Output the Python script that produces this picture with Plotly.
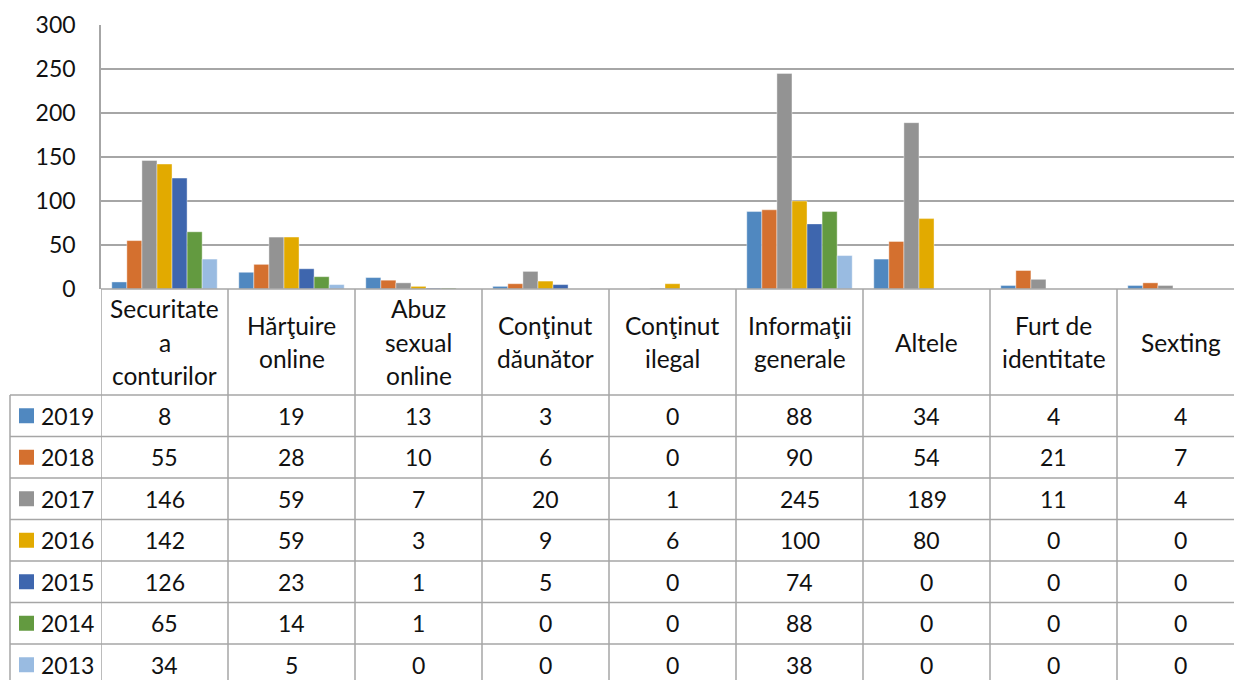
import plotly.graph_objects as go

categories = ["Securitate\na\nconturilor", "Hărţuire\nonline", "Abuz\nsexual\nonline",
              "Conţinut\ndăunător", "Conţinut\nilegal", "Informaţii\ngenerale",
              "Altele", "Furt de\nidentitate", "Sexting"]
years = ["2019", "2018", "2017", "2016", "2015", "2014", "2013"]
v2019 = [8, 19, 13, 3, 0, 88, 34, 4, 4]
v2018 = [55, 28, 10, 6, 0, 90, 54, 21, 7]
v2017 = [146, 59, 7, 20, 1, 245, 189, 11, 4]
v2016 = [142, 59, 3, 9, 6, 100, 80, 0, 0]
v2015 = [126, 23, 1, 5, 0, 74, 0, 0, 0]
v2014 = [65, 14, 1, 0, 0, 88, 0, 0, 0]
v2013 = [34, 5, 0, 0, 0, 38, 0, 0, 0]
series = [v2019, v2018, v2017, v2016, v2015, v2014, v2013]
colors = ["#5088C0", "#D4702F", "#939393", "#E2AA00", "#3E66AE", "#639A40", "#99BBE1"]
y_ticks = [0, 50, 100, 150, 200, 250, 300]

W, H = 1234, 680
FONT = "Lato"
FS = 23
FS_HEAD = 24.5
TXT = "#111111"
LINE = "#A6A6A6"

def px(x):
    return x / W

def py(y):
    return 1 - y / H

plot_left, plot_top, plot_bottom = 101, 25, 289
cat_w = 127
x_max = -0.5 + (W - plot_left) / cat_w

fig = go.Figure()
xs = list(range(len(categories)))
for yr, vals, c in zip(years, series, colors):
    fig.add_trace(go.Bar(x=xs, y=vals, name=yr,
                         marker=dict(color=c, line=dict(color="rgba(255,255,255,0.5)", width=0.8)),
                         showlegend=False))

fig.update_layout(
    width=W, height=H, margin=dict(l=0, r=0, t=0, b=0, pad=0), showlegend=False,
    paper_bgcolor="white", plot_bgcolor="white",
    barmode="group", bargap=0.17, bargroupgap=0,
    font=dict(family=FONT, size=FS, color=TXT),
    xaxis=dict(domain=[px(plot_left), 1], range=[-0.5, x_max], showticklabels=False,
               showgrid=False, zeroline=False, showline=False, ticks="", automargin=False),
    yaxis=dict(domain=[py(plot_bottom), py(plot_top)], range=[0, 300], tickvals=y_ticks,
               showgrid=True, gridcolor=LINE, gridwidth=1.5, zeroline=False,
               showline=True, linecolor=LINE, linewidth=1.5, ticks="", automargin=False,
               ticklabelstandoff=19, tickfont=dict(family=FONT, size=FS, color=TXT)),
)

shapes = []
header_top, header_bot = 289, 395
row_h = 41.5
row_tops = [header_bot + i * row_h for i in range(len(years))]
table_left = 10

shapes.append(dict(type="line", xref="paper", yref="paper", x0=px(plot_left), x1=1,
                   y0=py(header_top), y1=py(header_top), line=dict(color=LINE, width=1.5)))
for rt in row_tops:
    shapes.append(dict(type="line", xref="paper", yref="paper", x0=px(table_left), x1=1,
                       y0=py(rt), y1=py(rt), line=dict(color=LINE, width=1.5)))
shapes.append(dict(type="line", xref="paper", yref="paper", x0=px(table_left), x1=px(table_left),
                   y0=py(header_bot), y1=0, line=dict(color=LINE, width=1.5)))
for k in range(len(categories)):
    shapes.append(dict(type="line", xref="x", yref="paper", x0=k - 0.5, x1=k - 0.5,
                       y0=py(header_top), y1=0, line=dict(color=LINE, width=1.5)))

annotations = []
line_sp = 33
hc = (header_top + header_bot) / 2
for i, cat in enumerate(categories):
    parts = cat.split("\n")
    n = len(parts)
    for j, p in enumerate(parts):
        yy = hc + (j - (n - 1) / 2) * line_sp
        annotations.append(dict(x=i, xref="x", y=py(yy), yref="paper", text=p, showarrow=False,
                                xanchor="center", yanchor="middle",
                                font=dict(family=FONT, size=FS_HEAD, color=TXT)))
for r, (yr, vals, c) in enumerate(zip(years, series, colors)):
    yc = row_tops[r] + row_h / 2
    shapes.append(dict(type="rect", xref="paper", yref="paper", x0=px(19), x1=px(34),
                       y0=py(yc + 7.5), y1=py(yc - 7.5), fillcolor=c, line=dict(width=0)))
    annotations.append(dict(x=px(39), xref="paper", y=py(yc), yref="paper", text=yr, showarrow=False,
                            xanchor="left", yanchor="middle", font=dict(family=FONT, size=FS, color=TXT)))
    for i, v in enumerate(vals):
        annotations.append(dict(x=i, xref="x", y=py(yc), yref="paper", text=str(v), showarrow=False,
                                xanchor="center", yanchor="middle",
                                font=dict(family=FONT, size=FS, color=TXT)))

fig.update_layout(shapes=shapes, annotations=annotations)
fig.write_html("out.html", config={"displayModeBar": False},
               post_script="document.body.style.margin='0px';document.body.style.overflow='hidden';")
